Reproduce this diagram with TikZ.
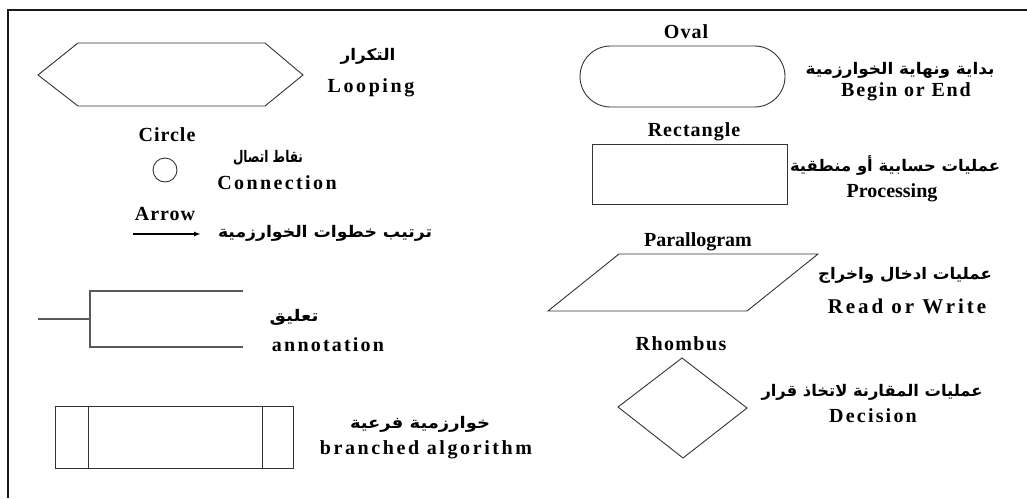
\documentclass[tikz,border=0pt]{standalone}
\usepackage{fontspec}
\usepackage{graphicx}
\setmainfont{Liberation Serif}
\newfontfamily\arabicfont[Script=Arabic]{DejaVu Sans}
\TeXXeTstate=1
\usetikzlibrary{arrows.meta}
\newcommand\lsp[2]{{\addfontfeature{LetterSpace=#1}#2}}
\newcommand\arw[2]{\resizebox{#1pt}{\height}{\arabicfont\bfseries\fontsize{16}{16}\selectfont #2}}
\tikzset{
  shp/.style={draw=black!80, line width=0.9pt},
  ann/.style={draw=black!65, line width=1.4pt},
  lbl/.style={font=\bfseries\fontsize{20}{20}\selectfont, inner sep=0pt},
  bigl/.style={font=\bfseries\fontsize{21}{21}\selectfont, inner sep=0pt},
  ar/.style={inner sep=0pt},
}
\begin{document}
\begin{tikzpicture}[x=1pt,y=-1pt]
\useasboundingbox (0,0) rectangle (1027,498);
% frame
\coordinate (f1) at (8,498);
\coordinate (f2) at (8,10);
\coordinate (f3) at (1027,10);
\draw[line width=1.5pt, draw=black!90] (f1) -- (f2) -- (f3);

% hexagon (looping)
\draw[shp] (38,75) -- (78,43) -- (265,43) -- (303,75) -- (265,106) -- (78,106) -- cycle;
\node[ar] (tloopar) at (368,56) {\arw{55}{\beginR التكرار\endR}};
\node[lbl] (tloop) at (371,88) {\lsp{13}{Looping}};

% circle
\node[lbl] (tcircle) at (167,135) {\lsp{5}{Circle}};
\node[shp, circle, minimum size=24pt, inner sep=0pt] (circ) at (165,170) {};
\node[ar] (tconar) at (268,158) {\arw{70}{\beginR نقاط اتصال\endR}};
\node[lbl] (tcon) at (277,183) {\lsp{12}{Connection}};

% arrow
\node[lbl] (tarrow) at (165,214) {\lsp{5}{Arrow}};
\coordinate (a1) at (133,234);
\coordinate (a2) at (201,234);
\draw[line width=1.6pt, -{Latex[length=7pt,width=5pt]}] (a1) -- (a2);
\node[ar] (tarrar) at (325,233) {\arw{214}{\beginR ترتيب خطوات الخوارزمية\endR}};

% annotation
\coordinate (n0) at (38,319);
\coordinate (n1) at (90,319);
\coordinate (n2) at (243,291);
\coordinate (n3) at (243,347);
\draw[ann] (n0) -- (n1);
\draw[ann] (n2) -- (90,291) -- (90,347) -- (n3);
\node[ar] (tannar) at (294,317) {\arw{49}{\beginR تعليق\endR}};
\node[lbl] (tann) at (328,345) {\lsp{11}{annotation}};

% branched algorithm
\draw[shp] (55,406) rectangle (293,468);
\draw[shp] (88,406) -- (88,468);
\draw[shp] (262,406) -- (262,468);
\node[ar] (tbrar) at (420,424) {\arw{140}{\beginR خوارزمية فرعية\endR}};
\node[lbl] (tbr) at (426,450) {\lsp{13}{branched algorithm}};

% oval
\node[lbl] (toval) at (686,32) {\lsp{5}{Oval}};
\draw[shp, rounded corners=30.5pt] (580,46) rectangle (785,107);
\node[ar] (tovalar) at (900,70) {\arw{189}{\beginR بداية ونهاية الخوارزمية\endR}};
\node[lbl] (tbegin) at (906,92) {\lsp{9}{Begin or End}};

% rectangle
\node[lbl] (trect) at (694,132) {\lsp{5}{Rectangle}};
\draw[shp] (592,144) rectangle (787,204);
\node[ar] (trectar) at (895,166) {\arw{210}{\beginR عمليات حسابية أو منطقية\endR}};
\node[lbl] (tproc) at (892,193) {\lsp{0}{Processing}};

% parallelogram
\node[lbl] (tpar) at (698,242) {\lsp{0}{Parallogram}};
\draw[shp] (619,254) -- (818,254) -- (747,311) -- (548,311) -- cycle;
\node[ar] (tparar) at (905,275) {\arw{174}{\beginR عمليات ادخال واخراج\endR}};
\node[bigl] (trw) at (907,306) {\lsp{14}{Read or Write}};

% rhombus
\node[lbl] (trh) at (681,344) {\lsp{7}{Rhombus}};
\draw[shp] (682,358) -- (747,408) -- (683,458) -- (618,407) -- cycle;
\node[ar] (trhar) at (872,392) {\arw{221}{\beginR عمليات المقارنة لاتخاذ قرار\endR}};
\node[lbl] (tdec) at (873,416) {\lsp{11}{Decision}};
\end{tikzpicture}
\end{document}
